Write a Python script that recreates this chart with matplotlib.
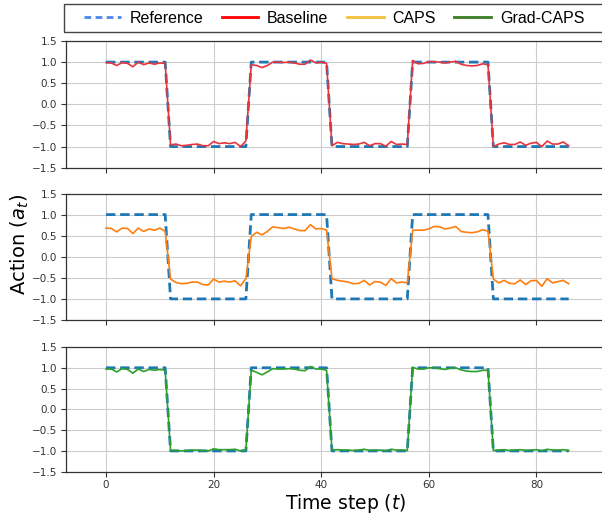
import numpy as np
import matplotlib
matplotlib.use("Agg")
import matplotlib.pyplot as plt
from matplotlib.lines import Line2D
from matplotlib.patches import Rectangle

t = list(range(87))

reference = ([1.0] * 12 + [-1.0] * 15 + [1.0] * 15 + [-1.0] * 15 + [1.0] * 15 + [-1.0] * 15)

baseline = [
    0.99, 0.98, 0.92, 0.99, 0.97, 0.89, 1.00, 0.94, 0.98, 0.95, 0.98, 0.97,
    -0.96, -0.94, -0.98, -0.97, -0.95, -0.94, -0.98, -0.98, -0.88, -0.93, -0.91, -0.93, -0.90, -1.00, -0.87,
    0.94, 0.92, 0.87, 0.92, 1.00, 1.00, 0.99, 1.00, 0.98, 0.95, 0.95, 1.05, 0.98, 1.00, 0.97,
    -0.98, -0.90, -0.93, -0.94, -0.95, -0.94, -0.90, -0.98, -0.93, -0.93, -0.99, -0.88, -0.95, -0.94, -0.95,
    1.04, 0.96, 0.97, 1.01, 1.01, 1.00, 0.98, 1.00, 1.02, 0.95, 0.92, 0.91, 0.92, 0.96, 0.94,
    -1.00, -0.94, -0.91, -0.95, -0.95, -0.89, -0.97, -0.92, -0.90, -1.00, -0.87, -0.94, -0.94, -0.89, -0.98,
]

caps = [
    0.68, 0.67, 0.59, 0.68, 0.67, 0.55, 0.68, 0.60, 0.66, 0.63, 0.68, 0.60,
    -0.53, -0.61, -0.64, -0.63, -0.60, -0.60, -0.66, -0.67, -0.53, -0.60, -0.58, -0.60, -0.57, -0.69, -0.52,
    0.48, 0.58, 0.52, 0.60, 0.71, 0.69, 0.67, 0.70, 0.66, 0.62, 0.62, 0.76, 0.66, 0.67, 0.63,
    -0.52, -0.56, -0.58, -0.60, -0.64, -0.63, -0.56, -0.67, -0.59, -0.60, -0.68, -0.52, -0.62, -0.60, -0.62,
    0.63, 0.63, 0.63, 0.66, 0.72, 0.71, 0.66, 0.68, 0.72, 0.60, 0.58, 0.57, 0.59, 0.64, 0.61,
    -0.53, -0.62, -0.56, -0.63, -0.64, -0.55, -0.66, -0.57, -0.56, -0.70, -0.52, -0.62, -0.59, -0.56, -0.64,
]

grad_caps = [
    0.97, 0.97, 0.90, 0.98, 0.96, 0.87, 0.97, 0.91, 0.96, 0.94, 0.96, 0.94,
    -0.99, -0.99, -1.00, -0.99, -0.98, -0.98, -0.99, -1.00, -0.95, -0.97, -0.97, -0.97, -0.96, -1.00, -0.97,
    0.94, 0.89, 0.83, 0.90, 0.98, 0.97, 0.97, 0.98, 0.97, 0.94, 0.93, 1.03, 0.97, 0.97, 0.94,
    -0.98, -0.97, -0.98, -0.98, -0.99, -0.98, -0.96, -0.99, -0.98, -0.98, -1.00, -0.96, -0.98, -0.98, -0.99,
    1.01, 0.97, 0.97, 1.00, 1.00, 0.98, 0.96, 0.99, 1.00, 0.95, 0.92, 0.91, 0.91, 0.94, 0.94,
    -0.99, -0.98, -0.97, -0.99, -0.98, -0.97, -0.99, -0.98, -0.97, -1.00, -0.96, -0.98, -0.98, -0.97, -0.99,
]

series = [baseline, caps, grad_caps]
series_colors = ["#e8343c", "#ff7f0e", "#2ca02c"]
legend_labels = ["Reference", "Baseline", "CAPS", "Grad-CAPS"]
legend_colors = ["#4a86e8", "#ff0000", "#f4c13a", "#3a7d22"]
xticks = [0, 20, 40, 60, 80]
yticks = [-1.5, -1.0, -0.5, 0.0, 0.5, 1.0, 1.5]

W, H = 602, 517
fig = plt.figure(figsize=(W / 100, H / 100), dpi=100)

px_per_unit = 5.38
x0_px = 106
left_px, right_px = 65.5, 612
xmin = (left_px - x0_px) / px_per_unit
xmax = (right_px - x0_px) / px_per_unit

panels = [(41, 167.7), (193.5, 320), (347, 471.7)]
axes = []
for i, (top, bot) in enumerate(panels):
    ax = fig.add_axes([left_px / W, 1 - bot / H, (right_px - left_px) / W, (bot - top) / H])
    ax.plot(t, reference, linestyle="--", color="#1f77b4", lw=2.0, dashes=(3.4, 1.7), zorder=2)
    ax.plot(t, series[i], color=series_colors[i], lw=1.2, zorder=3)
    ax.set_xlim(xmin, xmax)
    ax.set_ylim(-1.5, 1.5)
    ax.set_xticks(xticks)
    ax.set_yticks(yticks)
    ax.set_yticklabels([f"{v:.1f}".replace("-", "\u2212") for v in yticks])
    ax.grid(True, color="#cccccc", lw=0.8, zorder=0)
    ax.set_axisbelow(True)
    ax.tick_params(labelsize=7.5, labelcolor="#333333", length=3.5, width=0.8, color="#333333", pad=2.5)
    for s in ["left", "bottom", "top"]:
        ax.spines[s].set_color("#333333")
        ax.spines[s].set_linewidth(0.9)
    ax.spines["right"].set_visible(False)
    if i < 2:
        ax.tick_params(labelbottom=False)
    axes.append(ax)

fig.text(346 / W, 1 - 509 / H, "Time step ($t$)", ha="center", va="baseline", fontsize=13.5)
fig.text(19.5 / W, 1 - 244 / H, "Action ($a_t$)", ha="center", va="center", rotation=90, fontsize=14)

# Legend box
fig.patches.append(Rectangle((64 / W, 1 - 32.3 / H), (640 - 64) / W, (32.3 - 4) / H,
                             transform=fig.transFigure, fill=False, edgecolor="#444444", lw=1.0))
handles = [
    Line2D([], [], color=legend_colors[0], lw=2.0, linestyle="--", dashes=(2.4, 1.6)),
    Line2D([], [], color=legend_colors[1], lw=2.0),
    Line2D([], [], color=legend_colors[2], lw=2.0),
    Line2D([], [], color=legend_colors[3], lw=2.0),
]
fig.legend(handles, legend_labels, loc="center left", bbox_to_anchor=(84 / W, 1 - 18.5 / H),
           ncol=4, frameon=False, prop={"family": "Liberation Sans", "size": 11.5},
           handlelength=2.3, handletextpad=0.55, columnspacing=1.15, borderaxespad=0, borderpad=0)

fig.savefig("out.png", dpi=100)
